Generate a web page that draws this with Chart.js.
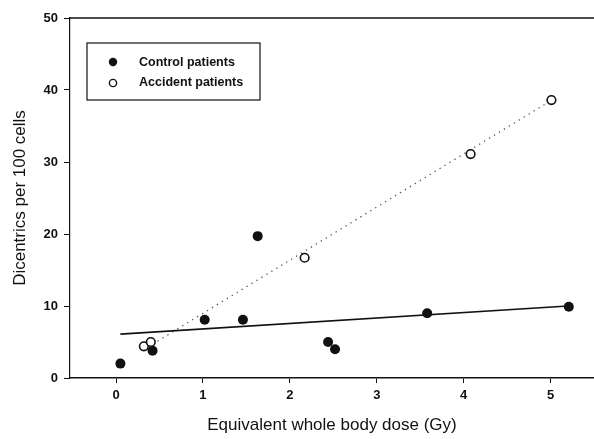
<!DOCTYPE html>
<html>
<head>
<meta charset="utf-8">
<script src="https://cdn.jsdelivr.net/npm/chart.js@4.4.1/dist/chart.umd.min.js"></script>
<style>
html,body{margin:0;padding:0;background:#fff;}
#wrap{width:594px;height:439px;}
</style>
</head>
<body>
<div id="wrap"><canvas id="c" width="594" height="439"></canvas></div>
<script>
const xTicks = [0, 1, 2, 3, 4, 5];
const yTicks = [0, 10, 20, 30, 40, 50];
const controlDose = [0.05, 0.42, 1.02, 1.46, 1.63, 2.44, 2.52, 3.58, 5.21];
const controlDic  = [2.0, 3.8, 8.1, 8.1, 19.7, 5.0, 4.0, 9.0, 9.9];
const accidentDose = [0.32, 0.40, 2.17, 4.08, 5.01];
const accidentDic  = [4.4, 5.0, 16.7, 31.1, 38.6];
const controlFitX = [0.05, 5.2];
const controlFitY = [6.1, 10.0];
const accidentFitX = [0.42, 5.0];
const accidentFitY = [4.7, 38.5];
const seriesLabels = ['Control patients', 'Accident patients'];

const pts = (xs, ys) => xs.map((x, i) => ({x: x, y: ys[i]}));
const FONT = '"Liberation Sans", Arial, sans-serif';

const decor = {
  id: 'decor',
  afterDraw(chart) {
    const ctx = chart.ctx, a = chart.chartArea;
    ctx.save();
    ctx.strokeStyle = '#111';
    ctx.lineWidth = 1.5;
    ctx.beginPath();
    ctx.moveTo(a.left, a.top);
    ctx.lineTo(a.right, a.top);
    ctx.stroke();
    // legend box
    const bx = 87, by = 43, bw = 173, bh = 57;
    ctx.lineWidth = 1.2;
    ctx.fillStyle = '#fff';
    ctx.fillRect(bx, by, bw, bh);
    ctx.strokeRect(bx, by, bw, bh);
    ctx.font = 'bold 12.5px ' + FONT;
    ctx.textBaseline = 'middle';
    ctx.textAlign = 'left';
    ctx.fillStyle = '#111';
    ctx.beginPath(); ctx.arc(113, 62, 4.2, 0, Math.PI * 2); ctx.fill();
    ctx.fillText(seriesLabels[0], 139, 63);
    ctx.lineWidth = 1.4;
    ctx.beginPath(); ctx.arc(113, 83, 3.6, 0, Math.PI * 2); ctx.stroke();
    ctx.fillText(seriesLabels[1], 139, 83);
    ctx.restore();
  }
};

new Chart(document.getElementById('c'), {
  type: 'scatter',
  data: {
    datasets: [
      {
        type: 'line', label: 'Control fit', data: pts(controlFitX, controlFitY),
        borderColor: '#111', borderWidth: 1.6, pointRadius: 0, fill: false, order: 3
      },
      {
        type: 'line', label: 'Accident fit', data: pts(accidentFitX, accidentFitY),
        borderColor: '#555', borderWidth: 1.3, borderDash: [1.3, 4.5], pointRadius: 0, fill: false, order: 4
      },
      {
        label: seriesLabels[0], data: pts(controlDose, controlDic),
        pointRadius: 5, pointBackgroundColor: '#111', pointBorderColor: '#111', pointBorderWidth: 0, order: 1
      },
      {
        label: seriesLabels[1], data: pts(accidentDose, accidentDic),
        pointRadius: 4.3, pointBackgroundColor: '#fff', pointBorderColor: '#111', pointBorderWidth: 1.6, order: 0
      }
    ]
  },
  options: {
    responsive: false,
    animation: false,
    devicePixelRatio: 1,
    clip: false,
    layout: { autoPadding: false, padding: { left: 0, right: 0, top: 18, bottom: 0 } },
    plugins: { legend: { display: false }, tooltip: { enabled: false } },
    scales: {
      x: {
        type: 'linear', min: -0.53, max: 5.5,
        afterBuildTicks: s => { s.ticks = xTicks.map(v => ({value: v})); },
        afterFit: s => { s.height = 61; s.paddingLeft = 0; s.paddingRight = 0; },
        grid: { display: true, drawOnChartArea: false, drawTicks: true, tickLength: 5, color: '#111', lineWidth: 1 },
        border: { display: true, color: '#111', width: 1.5 },
        ticks: { color: '#111', padding: 5, font: { family: FONT, size: 13, weight: 'bold' } },
        title: { display: true, text: 'Equivalent whole body dose (Gy)', color: '#111', padding: { top: 0, bottom: 3 },
                 font: { family: FONT, size: 17 } }
      },
      y: {
        type: 'linear', min: 0, max: 50,
        afterBuildTicks: s => { s.ticks = yTicks.map(v => ({value: v})); },
        afterFit: s => { s.width = 70; s.paddingTop = 0; s.paddingBottom = 0; },
        grid: { display: true, drawOnChartArea: false, drawTicks: true, tickLength: 6, color: '#111', lineWidth: 1 },
        border: { display: true, color: '#111', width: 1.2 },
        ticks: { color: '#111', padding: 6, font: { family: FONT, size: 13, weight: 'bold' } },
        title: { display: true, text: 'Dicentrics per 100 cells', color: '#111', padding: { top: 10, bottom: 0 },
                 font: { family: FONT, size: 17 } }
      }
    }
  },
  plugins: [decor]
});
</script>
</body>
</html>
